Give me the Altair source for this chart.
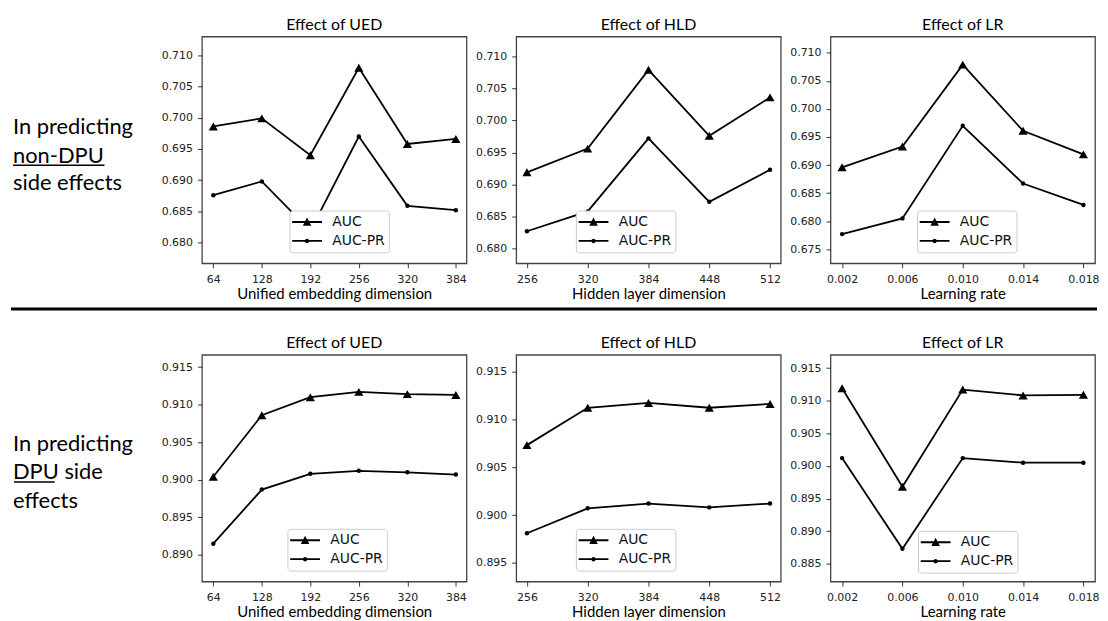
import altair as alt
import pandas as pd

SERIES = ["AUC", "AUC-PR"]

ued_x = [64, 128, 192, 256, 320, 384]
hld_x = [256, 320, 384, 448, 512]
lr_x = [0.002, 0.006, 0.010, 0.014, 0.018]

# non-DPU side effects
ued_non_auc = [0.6986, 0.6999, 0.6940, 0.7080, 0.6958, 0.6966]
ued_non_pr = [0.6876, 0.6898, 0.6819, 0.6970, 0.6859, 0.6852]
hld_non_auc = [0.6919, 0.6956, 0.7079, 0.6976, 0.7036]
hld_non_pr = [0.6827, 0.6858, 0.6972, 0.6873, 0.6923]
lr_non_auc = [0.6896, 0.6933, 0.7079, 0.6961, 0.6919]
lr_non_pr = [0.6777, 0.6805, 0.6970, 0.6867, 0.6829]

# DPU side effects
ued_dpu_auc = [0.9004, 0.9086, 0.9110, 0.9117, 0.9114, 0.9113]
ued_dpu_pr = [0.8915, 0.8987, 0.9008, 0.9012, 0.9010, 0.9007]
hld_dpu_auc = [0.9073, 0.9112, 0.9117, 0.9112, 0.9116]
hld_dpu_pr = [0.8981, 0.9007, 0.9012, 0.9008, 0.9012]
lr_dpu_auc = [0.9119, 0.8968, 0.9117, 0.9108, 0.9109]
lr_dpu_pr = [0.9012, 0.8873, 0.9012, 0.9005, 0.9005]

ticks_non_a = [0.680, 0.685, 0.690, 0.695, 0.700, 0.705, 0.710]
ticks_non_b = [0.675, 0.680, 0.685, 0.690, 0.695, 0.700, 0.705, 0.710]
ticks_dpu_a = [0.890, 0.895, 0.900, 0.905, 0.910, 0.915]
ticks_dpu_b = [0.895, 0.900, 0.905, 0.910, 0.915]
ticks_dpu_c = [0.885, 0.890, 0.895, 0.900, 0.905, 0.910, 0.915]

titles = ["Effect of UED", "Effect of HLD", "Effect of LR"]
xtitles = ["Unified embedding dimension", "Hidden layer dimension", "Learning rate"]

# legend glyphs: a short line with the marker on it (unit coordinates)
LEG_PATHS = [
    "M-1.17,-0.12H2.83V0.12H-1.17ZM0.83,-0.62L1.4,0.5L0.26,0.5Z",
    "M-1.17,-0.12H2.83V0.12H-1.17ZM1.13,0A0.3,0.3 0 1,1 0.53,0A0.3,0.3 0 1,1 1.13,0Z",
]

PW, PH = 266, 228


def panel(xvals, auc, pr, title, xtitle, xdomain, xfmt, ydomain, yticks, lx, ly):
    n = len(xvals)
    df = pd.DataFrame({
        "x": list(xvals) * 2,
        "y": list(auc) + list(pr),
        "series": ["AUC"] * n + ["AUC-PR"] * n,
    })
    xenc = alt.X("x:Q", scale=alt.Scale(domain=xdomain, nice=False, zero=False),
                 axis=alt.Axis(values=list(xvals), format=xfmt, title=xtitle,
                               labelPadding=6, titlePadding=2))
    yenc = alt.Y("y:Q", scale=alt.Scale(domain=ydomain, nice=False, zero=False),
                 axis=alt.Axis(values=yticks, format=".3f", labelPadding=5),
                 title=None)
    base = alt.Chart(df).encode(x=xenc, y=yenc)
    line = base.mark_line(color="black", strokeWidth=1.8).encode(detail="series:N")
    pts = base.mark_point(filled=True, color="black", opacity=1).encode(
        shape=alt.Shape("series:N", scale=alt.Scale(domain=SERIES, range=["triangle-up", "circle"]), legend=None),
        size=alt.Size("series:N", scale=alt.Scale(domain=SERIES, range=[85, 20]), legend=None),
    )
    carrier = base.mark_point(filled=True, color="black", opacity=1).encode(
        shape=alt.Shape("series:N", scale=alt.Scale(domain=SERIES, range=LEG_PATHS),
                        title=None,
                        legend=alt.Legend(orient="none", legendX=lx, legendY=ly,
                                          labelFont="DejaVu Sans", labelFontSize=14, labelColor="#111",
                                          symbolSize=225, symbolStrokeWidth=0,
                                          symbolFillColor="black", symbolStrokeColor="black",
                                          symbolOpacity=1, padding=4, rowPadding=4, labelOffset=24,
                                          strokeColor="#cccccc", fillColor="white", cornerRadius=3)),
    ).transform_filter("false")
    return alt.layer(line, pts, carrier).resolve_scale(shape="independent").properties(
        width=PW, height=PH,
        title=alt.Title(title, font="Lato", fontSize=16, fontWeight="normal", color="black",
                        offset=-9, baseline="alphabetic", anchor="middle"),
    )


def txt(s, y, size=22):
    return alt.Chart(pd.DataFrame({"t": [s]})).mark_text(
        align="left", baseline="alphabetic", font="Lato", fontSize=size, color="black"
    ).encode(x=alt.value(2), y=alt.value(y), text="t:N")


def hline(x1, x2, y, w):
    return alt.Chart(pd.DataFrame({"k": [0]})).mark_rule(color="black", strokeWidth=w, strokeCap="butt").encode(
        x=alt.value(x1), x2=alt.value(x2), y=alt.value(y))


label1 = alt.layer(
    txt("In predicting", 98), txt("non-DPU", 127), txt("side effects", 154),
    hline(2, 94, 129.5, 1.5),
).properties(width=142, height=PH, view=alt.ViewBackground(stroke="transparent"))

label2 = alt.layer(
    txt("In predicting", 97), txt("DPU side", 125), txt("effects", 154),
    hline(3, 44, 128, 1.5),
    hline(0, 1092, -46, 3),
).properties(width=142, height=PH, view=alt.ViewBackground(stroke="transparent"))

ued_dom = [49, 398]
hld_dom = [244.7, 523.3]
lr_dom = [0.00123, 0.01877]

p1 = panel(ued_x, ued_non_auc, ued_non_pr, titles[0], xtitles[0], ued_dom, "d", [0.6767, 0.7130], ticks_non_a, 88, 175)
p2 = panel(hld_x, hld_non_auc, hld_non_pr, titles[1], xtitles[1], hld_dom, "d", [0.6777, 0.7131], ticks_non_a, 60, 175)
p3 = panel(lr_x, lr_non_auc, lr_non_pr, titles[2], xtitles[2], lr_dom, ".3f", [0.6725, 0.7129], ticks_non_b, 87, 175)
p4 = panel(ued_x, ued_dpu_auc, ued_dpu_pr, titles[0], xtitles[0], ued_dom, "d", [0.88646, 0.91664], ticks_dpu_a, 86, 175)
p5 = panel(hld_x, hld_dpu_auc, hld_dpu_pr, titles[1], xtitles[1], hld_dom, "d", [0.89306, 0.91673], ticks_dpu_b, 60, 175)
p6 = panel(lr_x, lr_dpu_auc, lr_dpu_pr, titles[2], xtitles[2], lr_dom, ".3f", [0.88229, 0.91703], ticks_dpu_c, 88, 177)

chart = alt.concat(
    label1, p1, p2, p3, label2, p4, p5, p6,
    columns=4, spacing={"row": 92, "column": 50}, bounds="flush",
).resolve_scale(shape="independent").resolve_legend(shape="independent").properties(
    padding={"left": 0, "top": 6, "right": 0, "bottom": 0}
).configure_view(
    stroke="#444", strokeWidth=1.3
).configure_axis(
    domain=False, grid=False, tickColor="#222", tickSize=4.5, tickWidth=0.9,
    labelFont="DejaVu Sans", labelFontSize=11, labelColor="#222",
    titleFont="Lato", titleFontSize=15, titleFontWeight="normal", titleColor="black",
)

chart.save("out.html", embed_options={"renderer": "svg", "actions": False})
